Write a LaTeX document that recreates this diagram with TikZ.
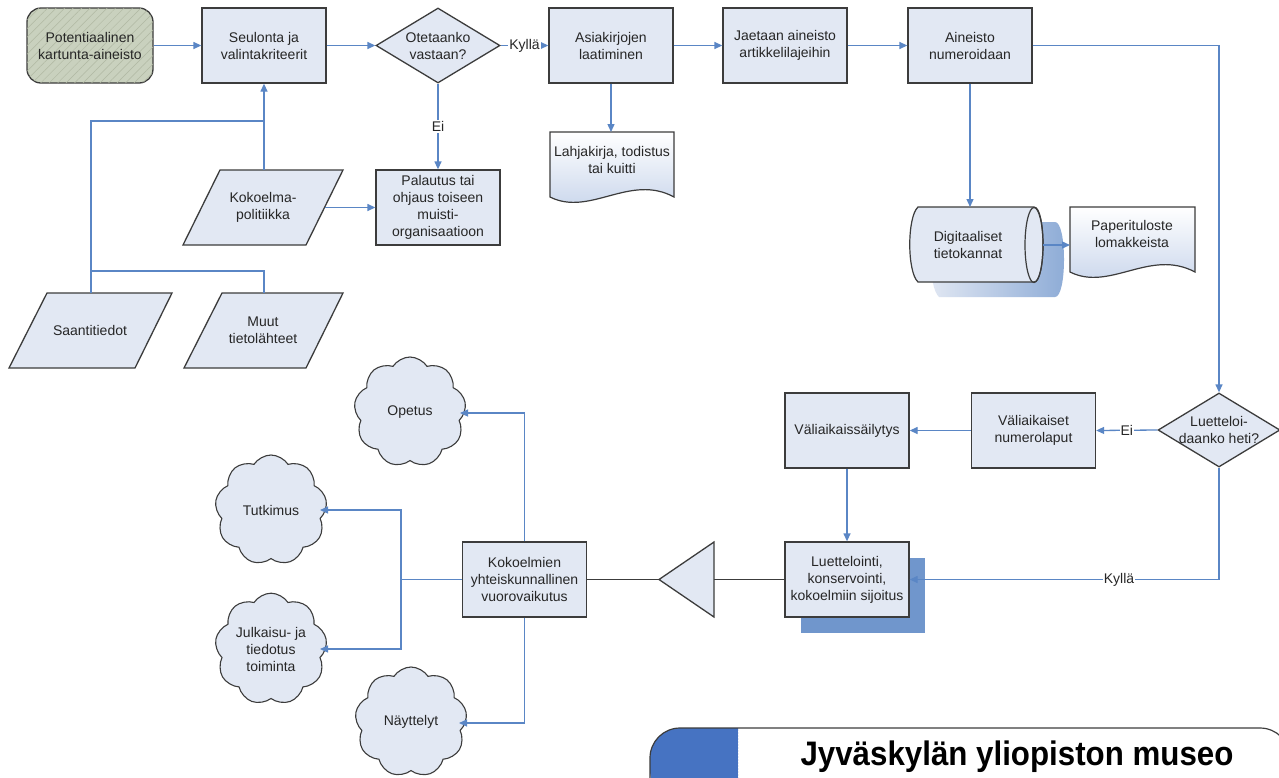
\documentclass[tikz,border=0pt]{standalone}
\usepackage{fontspec}
\setmainfont{Liberation Sans}
\newfontfamily\logofont[FakeStretch=0.92]{Liberation Sans}
\usetikzlibrary{shapes.geometric,shapes.symbols,arrows.meta,patterns.meta}
\definecolor{boxfill}{HTML}{E2E8F3}
\definecolor{boxdraw}{HTML}{3C3C3C}
\definecolor{conn}{HTML}{5A86C5}
\definecolor{potfill}{HTML}{C9D1BE}
\definecolor{hatch}{HTML}{B0B8A2}
\definecolor{shadowblue}{HTML}{7096CC}
\definecolor{logoblue}{HTML}{4673C2}
\definecolor{txt}{HTML}{262626}
\definecolor{docblue}{HTML}{C4D2EA}
\tikzset{
  box/.style={draw=boxdraw, line width=1.3pt, fill=boxfill, minimum width=124pt, minimum height=75pt, inner sep=0pt, align=center, font=\fontsize{14}{17}\selectfont, text=txt},
  dia/.style={draw=boxdraw, line width=1.3pt, fill=boxfill, diamond, minimum width=124pt, minimum height=75pt, inner sep=0pt},
  txtn/.style={align=center, font=\fontsize{14}{17}\selectfont, text=txt, inner sep=0pt},
  lbl/.style={fill=white, inner sep=1pt, font=\fontsize{14}{17}\selectfont, text=txt},
  arr/.style={draw=conn, line width=1.3pt, -{Triangle[length=8pt,width=7pt]}},
  ln/.style={draw=conn, line width=1.3pt},
  gln/.style={draw=boxdraw, line width=1.3pt},
  para/.style={draw=boxdraw, line width=1.3pt, fill=boxfill},
  docshape/.style={draw=boxdraw, line width=1.2pt, top color=white, bottom color=docblue},
  cloudn/.style={cloud, cloud puffs=9, cloud puff arc=115, aspect=1, draw=boxdraw, line width=1.1pt, fill=boxfill, minimum width=112pt, minimum height=110pt, inner sep=0pt, align=center, font=\fontsize{14}{17}\selectfont, text=txt}
}
\begin{document}
\begin{tikzpicture}[x=1pt,y=-1pt]
\useasboundingbox (0,0) rectangle (1279,777);
\fill[white] (0,0) rectangle (1279,777);

% top row
\node[box, rounded corners=14pt, fill=potfill, minimum width=126pt, postaction={pattern={Lines[angle=45,distance=6pt,line width=0.5pt]}, pattern color=hatch}] (pot) at (90,45.5) {};
\node[txtn] (pott) at (pot) {Potentiaalinen\\kartunta-aineisto};
\node[box] (seul) at (264,45.5) {Seulonta ja\\valintakriteerit};
\node[dia] (ot) at (438,45.5) {};
\node[txtn] (ott) at (ot) {Otetaanko\\vastaan?};
\node[box] (asia) at (611,45.5) {Asiakirjojen\\laatiminen};
\node[box] (jaet) at (785,45.5) {Jaetaan aineisto\\artikkelilajeihin};
\node[box] (ain) at (970,45.5) {Aineisto\\numeroidaan};
\node[box] (pal) at (438,207.5) {Palautus tai\\ohjaus toiseen\\muisti-\\organisaatioon};

% parallelograms
\draw[para] (220,170) -- (343,170) -- (306,245) -- (183,245) -- cycle;
\node[txtn] (kp) at (263,207.5) {Kokoelma-\\politiikka};
\coordinate (kpT) at (264,170);
\coordinate (kpR) at (325,207.5);
\draw[para] (47,293) -- (172,293) -- (135,368) -- (9,368) -- cycle;
\node[txtn] (st) at (90,330.5) {Saantitiedot};
\coordinate (stT) at (91,293);
\draw[para] (222,293) -- (343,293) -- (306,368) -- (184,368) -- cycle;
\node[txtn] (mt) at (263,330.5) {Muut\\tietolähteet};
\coordinate (mtT) at (264,293);
\coordinate (j1) at (264,121);
\coordinate (j2) at (91,271);

% top connectors
\draw[arr] (pot.east) -- (seul.west);
\draw[arr] (seul.east) -- (ot.west);
\draw[arr] (ot.east) -- node[lbl] (ky1) {Kyllä} (asia.west);
\draw[arr] (ot.south) -- node[lbl] (ei1) {Ei} (pal.north);
\draw[arr] (asia.east) -- (jaet.west);
\draw[arr] (jaet.east) -- (ain.west);
\draw[arr] (kpT) -- (seul.south);
\draw[arr] (kpR) -- (pal.west);
\draw[ln] (stT) |- (j1);
\draw[ln] (mtT) |- (j2);

% document Lahjakirja
\draw[docshape] (550,132) -- (674,132) -- (674,197) .. controls (630,173) and (590,217) .. (550,197) -- cycle;
\coordinate (lahT) at (611,132);
\node[txtn] (lah) at (612,160) {Lahjakirja, todistus\\tai kuitti};
\draw[arr] (asia.south) -- (lahT);

% cylinder
\path[shift={(21,15)}, left color=boxfill, right color=shadowblue!80] (918,207) -- (1034,207) .. controls (1046,207) and (1046,282) .. (1034,282) -- (918,282) .. controls (907,272) and (907,217) .. (918,207) -- cycle;
\draw[draw=boxdraw, line width=1.2pt, fill=boxfill] (918,207) -- (1034,207) .. controls (1046,207) and (1046,282) .. (1034,282) -- (918,282) .. controls (907,272) and (907,217) .. (918,207) -- cycle;
\draw[draw=boxdraw, line width=1.2pt] (1034,245) ellipse [x radius=9, y radius=37.5];
\node[txtn] (cyl) at (968,245) {Digitaaliset\\tietokannat};
\coordinate (cylT) at (970,207);
\coordinate (cylR) at (1043,245);
\draw[arr] (ain.south) -- (cylT);

% document Paperituloste
\draw[docshape] (1070,207) -- (1195,207) -- (1195,272) .. controls (1150,248) and (1110,292) .. (1070,272) -- cycle;
\node[txtn] (pap) at (1132,234) {Paperituloste\\lomakkeista};
\coordinate (papL) at (1070,245);
\draw[arr] (cylR) -- (papL);

% right side
\node[dia, minimum width=122pt, minimum height=74pt] (ld) at (1219,430) {};
\node[txtn] (ldt) at (ld) {Luetteloi-\\daanko heti?};
\draw[arr] (ain.east) -| (ld.north);
\node[box] (vn) at (1033.5,430.5) {Väliaikaiset\\numerolaput};
\node[box] (vs) at (847,430.5) {Väliaikaissäilytys};
\fill[shadowblue] (801,558) rectangle (925,633);
\node[box] (lu) at (847,579.5) {Luettelointi,\\konservointi,\\kokoelmiin sijoitus};
\draw[arr] (ld.west) -- node[lbl] (ei2) {Ei} (vn.east);
\draw[arr] (vn.west) -- (vs.east);
\draw[arr] (vs.south) -- (lu.north);
\draw[arr] (ld.south) |- (lu.east);
\node[lbl] (ky2) at (1119,579.5) {Kyllä};

% triangle and society box
\draw[gln, fill=boxfill] (659,579.5) -- (714,542) -- (714,617) -- cycle;
\coordinate (triL) at (659,579.5);
\coordinate (triR) at (714,579.5);
\node[box] (kv) at (524.5,579.5) {Kokoelmien\\yhteiskunnallinen\\vuorovaikutus};
\draw[gln] (kv.east) -- (triL);
\draw[gln] (triR) -- (lu.west);

% clouds
\node[cloudn] (op) at (410,412) {Opetus};
\node[cloudn] (tu) at (271,510) {Tutkimus};
\node[cloudn] (ju) at (271,649) {Julkaisu- ja\\tiedotus\\toiminta};
\node[cloudn] (ny) at (411,722) {Näyttelyt};
\coordinate (opE) at (460,413);
\coordinate (tuE) at (320,510);
\coordinate (juE) at (320,649);
\coordinate (nyE) at (459,723);
\coordinate (br) at (401,579.5);
\draw[arr] (kv.north) |- (opE);
\draw[ln] (kv.west) -- (br);
\draw[arr] (br) |- (tuE);
\draw[arr] (br) |- (juE);
\draw[arr] (kv.south) |- (nyE);

% logo
\begin{scope}
\clip (0,0) rectangle (1279,777);
\fill[white, rounded corners=30pt] (650,800) -- (650,728) -- (1290,728) -- (1290,800) -- cycle;
\begin{scope}
\clip (640,700) rectangle (738,790);
\fill[logoblue, rounded corners=30pt] (650,800) -- (650,728) -- (1290,728) -- (1290,800) -- cycle;
\end{scope}
\draw[boxdraw, line width=1.2pt, rounded corners=30pt] (650,800) -- (650,728) -- (1290,728) -- (1290,800);
\draw[white, dotted, line width=1pt] (738,731) -- (738,777);
\end{scope}
\node[anchor=base, inner sep=0pt, font=\logofont\bfseries\fontsize{34}{38}\selectfont, text=black] (logo) at (1017,765) {Jyväskylän yliopiston museo};
\end{tikzpicture}
\end{document}
